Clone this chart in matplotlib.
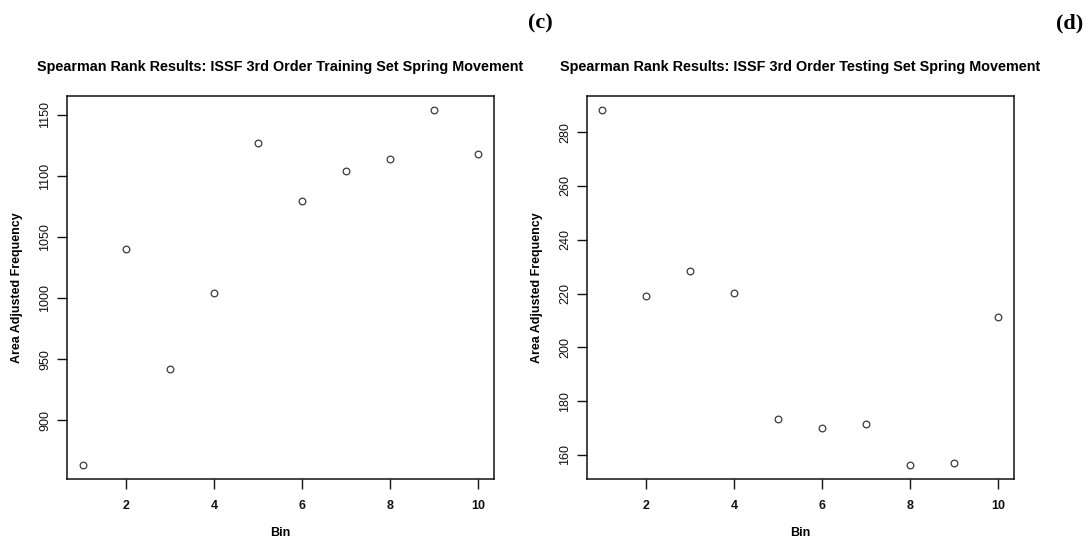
import matplotlib
matplotlib.use("Agg")
import matplotlib.pyplot as plt

plt.rcParams['font.family'] = ['Liberation Sans', 'DejaVu Sans']

bins = [1, 2, 3, 4, 5, 6, 7, 8, 9, 10]
training_freq = [863.6, 1040.6, 942.4, 1004.2, 1127.0, 1079.4, 1104.0, 1114.2, 1154.1, 1117.7]
testing_freq = [288.3, 218.9, 228.3, 220.2, 173.2, 170.1, 171.3, 156.3, 157.0, 211.2]

x_ticks = [2, 4, 6, 8, 10]
training_yticks = [900, 950, 1000, 1050, 1100, 1150]
testing_yticks = [160, 180, 200, 220, 240, 260, 280]

titles = [
    "Spearman Rank Results: ISSF 3rd Order Training Set Spring Movement",
    "Spearman Rank Results: ISSF 3rd Order Testing Set Spring Movement",
]
panel_tags = ["(c)", "(d)"]

fig = plt.figure(figsize=(10.88, 5.40), dpi=100)
fig.patch.set_facecolor("white")

axes_rects = [
    [0.0613, 0.113, 0.3927, 0.7098],
    [0.5392, 0.113, 0.3927, 0.7098],
]


def r_range(vals):
    # R-style axis limits: data range widened by 4% on each side
    lo, hi = min(vals), max(vals)
    pad = 0.04 * (hi - lo)
    return lo - pad, hi + pad


for rect, yvals, yticks, title in zip(
    axes_rects, [training_freq, testing_freq], [training_yticks, testing_yticks], titles
):
    ax = fig.add_axes(rect)
    ax.plot(bins, yvals, linestyle="none", marker="o", markersize=4.8,
            markerfacecolor="none", markeredgecolor="#3a3a3a", markeredgewidth=0.9)
    ax.set_xlim(*r_range(bins))
    ax.set_ylim(*r_range(yvals))
    ax.set_xticks(x_ticks)
    ax.set_yticks(yticks)
    ax.tick_params(axis="both", direction="out", length=7, width=1.0,
                   labelsize=9, colors="#111111")
    ax.tick_params(axis="x", pad=8)
    ax.tick_params(axis="y", pad=4)
    for lab in ax.get_xticklabels():
        lab.set_fontweight("bold")
    for lab in ax.get_yticklabels():
        lab.set_rotation(90)
        lab.set_verticalalignment("center")
    for sp in ax.spines.values():
        sp.set_linewidth(1.1)
        sp.set_color("#111111")
    ax.set_xlabel("Bin", fontsize=9, fontweight="bold", labelpad=11)
    ax.set_ylabel("Area Adjusted Frequency", fontsize=9, fontweight="bold", labelpad=12)
    ax.set_title(title, fontsize=10.4, fontweight="bold", pad=18)

fig.text(0.497, 0.957, panel_tags[0], fontsize=16, fontweight="bold",
         family=["Liberation Serif", "DejaVu Serif"], ha="center", va="center")
fig.text(0.983, 0.957, panel_tags[1], fontsize=16, fontweight="bold",
         family=["Liberation Serif", "DejaVu Serif"], ha="center", va="center")

fig.savefig("out.png", dpi=100, facecolor="white")
